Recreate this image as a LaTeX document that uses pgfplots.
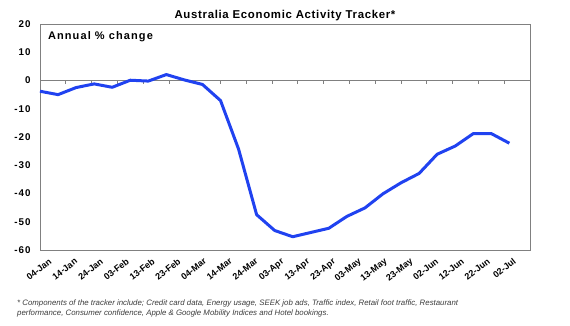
\documentclass[border=0pt]{standalone}
\usepackage{pgfplots}
\pgfplotsset{compat=1.18}
\usepackage{fontspec}
\setmainfont{Liberation Sans}
\definecolor{lineblue}{RGB}{32,66,240}
\definecolor{axgray}{RGB}{128,128,128}
\definecolor{notegray}{RGB}{60,60,60}
\begin{document}
\begin{tikzpicture}
\useasboundingbox (0pt,0pt) rectangle (570pt,325pt);
\begin{axis}[at={(40pt,75pt)}, anchor=south west, scale only axis,
  width=490pt, height=226pt,
  xmin=0, xmax=190, ymin=-60, ymax=20,
  ytick={-60,-50,...,20},
  xtick={0,10,...,180},
  xticklabels={04-Jan,14-Jan,24-Jan,03-Feb,13-Feb,23-Feb,04-Mar,14-Mar,24-Mar,03-Apr,13-Apr,23-Apr,03-May,13-May,23-May,02-Jun,12-Jun,22-Jun,02-Jul},
  major tick length=0pt,
  axis line style={axgray, line width=0.8pt},
  /pgf/number format/assume math mode=true,
  yticklabel style={font=\fontsize{9.8}{11}\selectfont\bfseries\addfontfeature{LetterSpace=10}, xshift=-6pt},
  xticklabel style={rotate=38, anchor=north east, font=\fontsize{9}{10}\selectfont\bfseries, inner sep=0pt, yshift=-11pt, xshift=2pt},
  title={Australia Economic Activity Tracker*},
  title style={font=\fontsize{11.4}{12}\selectfont\bfseries\addfontfeature{LetterSpace=6}, at={(0.5,1)}, anchor=center, yshift=2pt, inner sep=0pt},
  clip=false,
]
\addplot[axgray, line width=0.8pt, forget plot] coordinates {(0,0) (190,0)};
\addplot[ycomb, axgray, line width=0.8pt, forget plot] coordinates {(0,-1.2) (10,-1.2) (20,-1.2) (30,-1.2) (40,-1.2) (50,-1.2) (60,-1.2) (70,-1.2) (80,-1.2) (90,-1.2) (100,-1.2) (110,-1.2) (120,-1.2) (130,-1.2) (140,-1.2) (150,-1.2) (160,-1.2) (170,-1.2) (180,-1.2)};
\addplot[lineblue, line width=3pt, line join=round] table {
x y
0 -3.8
7 -5.0
14 -2.5
21 -1.2
28 -2.4
35 0.1
42 -0.2
49 2.1
56 0.2
63 -1.4
70 -7.1
77 -24.3
84 -47.5
91 -53.1
98 -55.3
105 -53.8
112 -52.3
119 -48.1
126 -45.1
133 -40.1
140 -36.2
147 -32.9
154 -26.1
161 -23.2
168 -18.8
175 -18.8
182 -22.2
};
\node[anchor=west, font=\fontsize{11}{12}\selectfont\bfseries\addfontfeature{LetterSpace=10}, inner sep=0pt] at (rel axis cs:0.016,0.942) {Annual \% change};
\end{axis}
\node[anchor=north west, align=left, inner sep=0pt, font=\fontsize{7.85}{9.3}\selectfont\itshape, text=notegray] at (17pt,25pt) {* Components of the tracker include; Credit card data, Energy usage, SEEK job ads, Traffic index, Retail foot traffic, Restaurant\\performance, Consumer confidence, Apple \& Google Mobility Indices and Hotel bookings.};
\end{tikzpicture}
\end{document}
